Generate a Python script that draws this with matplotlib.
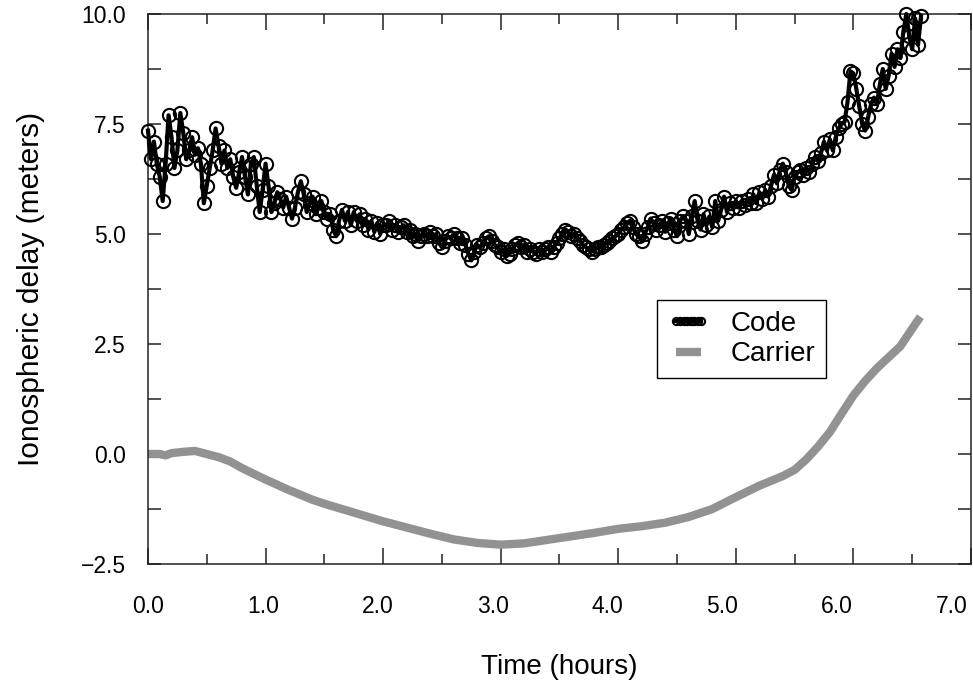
import matplotlib

matplotlib.use("Agg")
import matplotlib.pyplot as plt
import matplotlib.transforms as mtransforms
import numpy as np

plt.rcParams["font.family"] = ["Liberation Sans", "DejaVu Sans"]

# code-phase ionospheric delay (m), one sample every 0.025 h from t = 0
CODE_STEP_H = 0.025
code_delay = [
    7.35, 6.7, 7.1, 6.6, 6.3, 5.75, 6.6, 7.7, 7.2, 6.5,
    6.9, 7.75, 7.3, 6.7, 6.9, 7.2, 6.8, 6.95, 6.6, 5.7,
    6.1, 6.5, 6.9, 7.4, 7.0, 6.6, 6.9, 6.5, 6.7, 6.3,
    6.05, 6.4, 6.75, 6.3, 5.9, 6.6, 6.75, 6.1, 5.5, 6.0,
    # 1 h
    6.6, 6.1, 5.5, 5.7, 5.95, 5.8, 5.6, 5.85, 5.6, 5.35,
    5.6, 5.95, 6.2, 5.9, 5.5, 5.7, 5.85, 5.45, 5.6, 5.75,
    5.5, 5.35, 5.45, 5.1, 4.95, 5.3, 5.55, 5.3, 5.5, 5.2,
    5.5, 5.3, 5.45, 5.2, 5.35, 5.1, 5.3, 5.05, 5.25, 5.0,
    # 2 h
    5.2, 5.2, 5.3, 5.1, 5.2, 5.05, 5.15, 5.2, 5.05, 5.1,
    4.95, 5.0, 4.85, 4.95, 5.0, 4.95, 5.05, 4.95, 5.0, 4.8,
    4.7, 4.85, 4.95, 4.9, 5.0, 4.9, 4.8, 4.9, 4.75, 4.55,
    4.4, 4.6, 4.75, 4.7, 4.8, 4.9, 4.95, 4.85, 4.75, 4.7,
    # 3 h
    4.6, 4.65, 4.5, 4.55, 4.65, 4.75, 4.8, 4.7, 4.75, 4.6,
    4.65, 4.6, 4.55, 4.65, 4.6, 4.65, 4.7, 4.6, 4.7, 4.8,
    4.9, 5.0, 5.1, 5.05, 4.95, 5.0, 4.9, 4.85, 4.75, 4.7,
    4.65, 4.6, 4.65, 4.7, 4.7, 4.75, 4.8, 4.85, 4.9, 4.95,
    # 4 h
    5.0, 5.1, 5.15, 5.25, 5.3, 5.15, 5.0, 4.95, 4.85, 5.0,
    5.15, 5.35, 5.25, 5.1, 5.2, 5.3, 5.05, 5.25, 5.35, 5.1,
    4.95, 5.3, 5.4, 5.3, 5.0, 5.4, 5.75, 5.3, 5.1, 5.45,
    5.2, 5.4, 5.15, 5.75, 5.3, 5.55, 5.85, 5.5, 5.7, 5.6,
    # 5 h
    5.75, 5.6, 5.75, 5.65, 5.8, 5.7, 5.9, 5.7, 5.95, 5.8,
    6.0, 5.85, 6.1, 6.35, 6.15, 6.45, 6.6, 6.4, 6.1, 6.0,
    6.3, 6.4, 6.45, 6.35, 6.5, 6.4, 6.6, 6.75, 6.65, 6.85,
    7.1, 6.9, 7.15, 6.9, 7.2, 7.4, 7.5, 7.55, 8.0, 8.7,
    # 6 h
    8.65, 8.3, 7.9, 7.5, 7.35, 7.65, 7.95, 8.1, 7.95, 8.4,
    8.75, 8.3, 8.6, 9.1, 8.8, 9.2, 9.0, 9.6, 10.0, 9.5,
    9.2, 9.9, 9.3, 9.95,
]

# carrier-phase ionospheric delay (m)
carrier_hours = [
    0.0, 0.1, 0.15, 0.2, 0.3, 0.4, 0.5, 0.6, 0.7, 0.8,
    0.9, 1.0, 1.1, 1.2, 1.3, 1.4, 1.5, 1.6, 1.7, 1.8,
    1.9, 2.0, 2.2, 2.4, 2.6, 2.8, 3.0, 3.2, 3.4, 3.6,
    3.8, 4.0, 4.2, 4.4, 4.6, 4.8, 5.0, 5.2, 5.4, 5.5,
    5.6, 5.7, 5.8, 5.9, 6.0, 6.1, 6.2, 6.3, 6.4, 6.5,
    6.57,
]
carrier_delay = [
    0.0, 0.0, -0.03, 0.02, 0.05, 0.07, 0.0, -0.07, -0.17, -0.32,
    -0.45, -0.58, -0.7, -0.82, -0.93, -1.04, -1.13, -1.21, -1.29, -1.37,
    -1.45, -1.53, -1.67, -1.81, -1.94, -2.02, -2.06, -2.03, -1.95, -1.87,
    -1.79, -1.7, -1.64, -1.56, -1.43, -1.25, -0.98, -0.72, -0.5, -0.36,
    -0.12, 0.17, 0.5, 0.92, 1.33, 1.66, 1.95, 2.2, 2.45, 2.85,
    3.12,
]

x_ticks = [0, 1, 2, 3, 4, 5, 6, 7]
x_tick_labels = ["0.0", "1.0", "2.0", "3.0", "4.0", "5.0", "6.0", "7.0"]
y_ticks = [-2.5, 0.0, 2.5, 5.0, 7.5, 10.0]
y_tick_labels = ["\u22122.5", "0.0", "2.5", "5.0", "7.5", "10.0"]

code_hours = np.arange(len(code_delay)) * CODE_STEP_H

fig = plt.figure(figsize=(9.73, 6.85), dpi=100)
ax = fig.add_axes([0.1521, 0.1766, 0.8458, 0.8029])

ax.plot(carrier_hours, carrier_delay, color="#929292", linewidth=6,
        solid_capstyle="butt", label="Carrier", zorder=2)
ax.plot(code_hours, code_delay, color="black", linewidth=3,
        marker="o", markersize=9.5, markerfacecolor="none",
        markeredgecolor="black", markeredgewidth=1.5,
        label="Code", zorder=3, clip_on=False)

ax.set_xlim(0, 7)
ax.set_ylim(-2.5, 10)
ax.set_xticks(x_ticks)
ax.set_xticklabels(x_tick_labels)
ax.set_xticks(np.arange(0.5, 7, 1.0), minor=True)
ax.set_yticks(y_ticks)
ax.set_yticklabels(y_tick_labels)
ax.set_yticks([-1.25, 1.25, 3.75, 6.25, 8.75], minor=True)

ax.tick_params(which="both", direction="in", top=True, right=True,
               color="#222222", width=1.1, labelsize=16.5)
ax.tick_params(axis="x", which="major", length=11.5, pad=22)
ax.tick_params(axis="x", which="minor", length=7.5)
ax.tick_params(axis="y", which="both", length=9.5, pad=16)
for spine in ax.spines.values():
    spine.set_color("#222222")
    spine.set_linewidth(1.1)

# the original's tick labels drift slightly left of their ticks
for k, lab in enumerate(ax.get_xticklabels()):
    shift = mtransforms.ScaledTranslation(-2.7 * k / 100, 0, fig.dpi_scale_trans)
    lab.set_transform(lab.get_transform() + shift)

ax.set_xlabel("Time (hours)", fontsize=20)
ax.set_ylabel("Ionospheric delay (meters)", fontsize=21.5)
ax.xaxis.set_label_coords(0.5, -0.163)
ax.yaxis.set_label_coords(-0.125, 0.5)

handles, labels = ax.get_legend_handles_labels()
leg = ax.legend(handles[::-1], labels[::-1], loc="upper left",
                bbox_to_anchor=(0.6185, 0.48), fontsize=20,
                frameon=True, fancybox=False, framealpha=1,
                edgecolor="black", borderaxespad=0, borderpad=0.4,
                handlelength=1.5, handletextpad=0.75, labelspacing=0.15,
                numpoints=8, markerscale=0.55)
leg.get_frame().set_linewidth(1.0)

fig.savefig("out.png", dpi=100)
